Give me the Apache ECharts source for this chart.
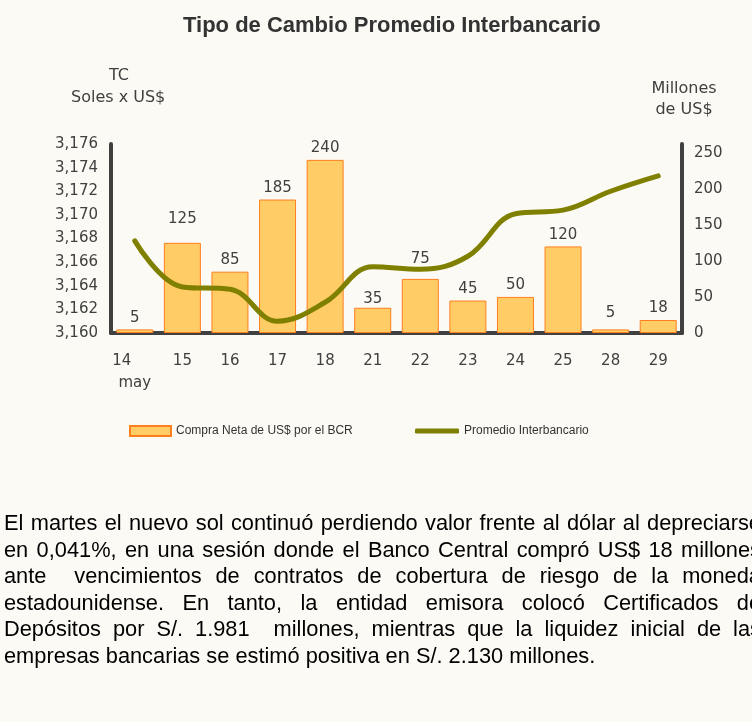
<!DOCTYPE html>
<html>
<head>
<meta charset="utf-8">
<script src="https://cdn.jsdelivr.net/npm/echarts@6/dist/echarts.min.js"></script>
<style>
  html, body { margin: 0; padding: 0; background: #fbfaf5; overflow: hidden; }
  #chart { position: absolute; left: 0; top: 0; width: 752px; height: 722px; }
  #nota {
    position: absolute; left: 4px; top: 510px; width: 757px;
    font-family: "Liberation Sans", Arial, sans-serif; font-size: 21.8px;
    line-height: 26.6px; color: #000;
  }
  #nota div { white-space: nowrap; text-align: justify; text-align-last: justify; }
  #nota div.ult { text-align-last: left; }
</style>
</head>
<body>
<div id="chart"></div>
<div id="nota">
  <div>El martes el nuevo sol continuó perdiendo valor frente al dólar al depreciarse</div>
  <div>en 0,041%, en una sesión donde el Banco Central compró US$ 18 millones</div>
  <div>ante&nbsp; vencimientos de contratos de cobertura de riesgo de la moneda</div>
  <div>estadounidense. En tanto, la entidad emisora colocó Certificados de</div>
  <div>Depósitos por S/. 1.981&nbsp; millones, mientras que la liquidez inicial de las</div>
  <div class="ult">empresas bancarias se estimó positiva en S/. 2.130 millones.</div>
</div>
<script>
// dias de mayo
var dias = ['14', '15', '16', '17', '18', '21', '22', '23', '24', '25', '28', '29']
// compra neta BCR (millones US$)
var compraNeta = [5, 125, 85, 185, 240, 35, 75, 45, 50, 120, 5, 18]
// tipo de cambio promedio interbancario
var promedioTC = [3.1678, 3.1639, 3.1637, 3.1610, 3.1626, 3.1656, 3.1654, 3.1665, 3.1701, 3.1704, 3.1720, 3.1733]

var txt = '#404040'
// etiquetas que en el original van mas arriba para no pisar la linea
var subirEtiqueta = { 1: 12, 5: -3, 6: 8, 10: 5 }

var chart = echarts.init(document.getElementById('chart'))

chart.setOption({
  backgroundColor: '#fbfaf5',
  animation: false,
  textStyle: { fontFamily: 'DejaVu Sans' },
  title: {
    text: 'Tipo de Cambio Promedio Interbancario',
    left: 178,
    top: 10,
    textStyle: { fontFamily: 'Liberation Sans', fontWeight: 'bold', fontSize: 22, color: '#333' }
  },
  graphic: [
    { type: 'text', x: 119, y: 76, style: { text: 'TC', fontSize: 16, fill: txt, fontFamily: 'DejaVu Sans', align: 'center', verticalAlign: 'middle' } },
    { type: 'text', x: 71, y: 98, style: { text: 'Soles x US$', fontSize: 16, fill: txt, fontFamily: 'DejaVu Sans', verticalAlign: 'middle' } },
    { type: 'text', x: 684, y: 89, style: { text: 'Millones', fontSize: 16, fill: txt, fontFamily: 'DejaVu Sans', align: 'center', verticalAlign: 'middle' } },
    { type: 'text', x: 684, y: 110, style: { text: 'de US$', fontSize: 16, fill: txt, fontFamily: 'DejaVu Sans', align: 'center', verticalAlign: 'middle' } }
  ],
  legend: [{
    data: ['Compra Neta de US$ por el BCR'],
    left: 124,
    top: 420,
    icon: 'rect',
    itemWidth: 41,
    itemHeight: 10,
    textStyle: { fontFamily: 'Liberation Sans', fontSize: 12, color: '#333' }
  }, {
    data: [{ name: 'Promedio Interbancario', icon: 'roundRect' }],
    left: 410,
    top: 420,
    itemWidth: 44,
    itemHeight: 5,
    textStyle: { fontFamily: 'Liberation Sans', fontSize: 12, color: '#333' }
  }],
  grid: { left: 111, right: 70, top: 144, bottom: 389 },
  xAxis: {
    type: 'category',
    data: dias,
    axisLine: { onZero: false, lineStyle: { color: txt, width: 4 } },
    axisTick: { show: false },
    axisLabel: {
      interval: 0,
      margin: 17,
      fontSize: 15,
      color: txt,
      lineHeight: 22,
      formatter: function (v, i) {
        return i === 0 ? '{a|14}\n{b|may}' : v
      },
      rich: {
        a: { fontSize: 15, color: txt, padding: [0, 26, 0, 0] },
        b: { fontSize: 15, color: txt }
      }
    }
  },
  yAxis: [{
    type: 'value',
    min: 3.160,
    max: 3.176,
    interval: 0.002,
    splitLine: { show: false },
    axisTick: { show: false },
    axisLine: { show: true, lineStyle: { color: txt, width: 4 } },
    axisLabel: {
      margin: 13,
      fontSize: 15,
      color: txt,
      formatter: function (v) { return v.toFixed(3).replace('.', ',') }
    }
  }, {
    type: 'value',
    min: 0,
    max: 262,
    interval: 50,
    splitLine: { show: false },
    axisTick: { show: false },
    axisLine: { show: true, lineStyle: { color: txt, width: 4 } },
    axisLabel: {
      margin: 12,
      fontSize: 15,
      color: txt,
      formatter: function (v) { return v % 50 === 0 ? v : '' }
    }
  }],
  series: [{
    name: 'Compra Neta de US$ por el BCR',
    type: 'bar',
    yAxisIndex: 1,
    data: compraNeta.map(function (v, i) {
      return subirEtiqueta[i] ? { value: v, label: { distance: 4 + subirEtiqueta[i] } } : v
    }),
    barWidth: 37,
    itemStyle: { color: '#ffcc66', borderColor: '#ff7f1f', borderWidth: 1 },
    label: { show: true, position: 'top', distance: 4, fontSize: 15, color: txt }
  }, {
    name: 'Promedio Interbancario',
    type: 'line',
    yAxisIndex: 0,
    data: promedioTC,
    smooth: 0.4,
    showSymbol: false,
    symbol: 'none',
    z: 3,
    lineStyle: { color: '#808000', width: 5, cap: 'round' },
    itemStyle: { color: '#808000' }
  }]
})
</script>
</body>
</html>
